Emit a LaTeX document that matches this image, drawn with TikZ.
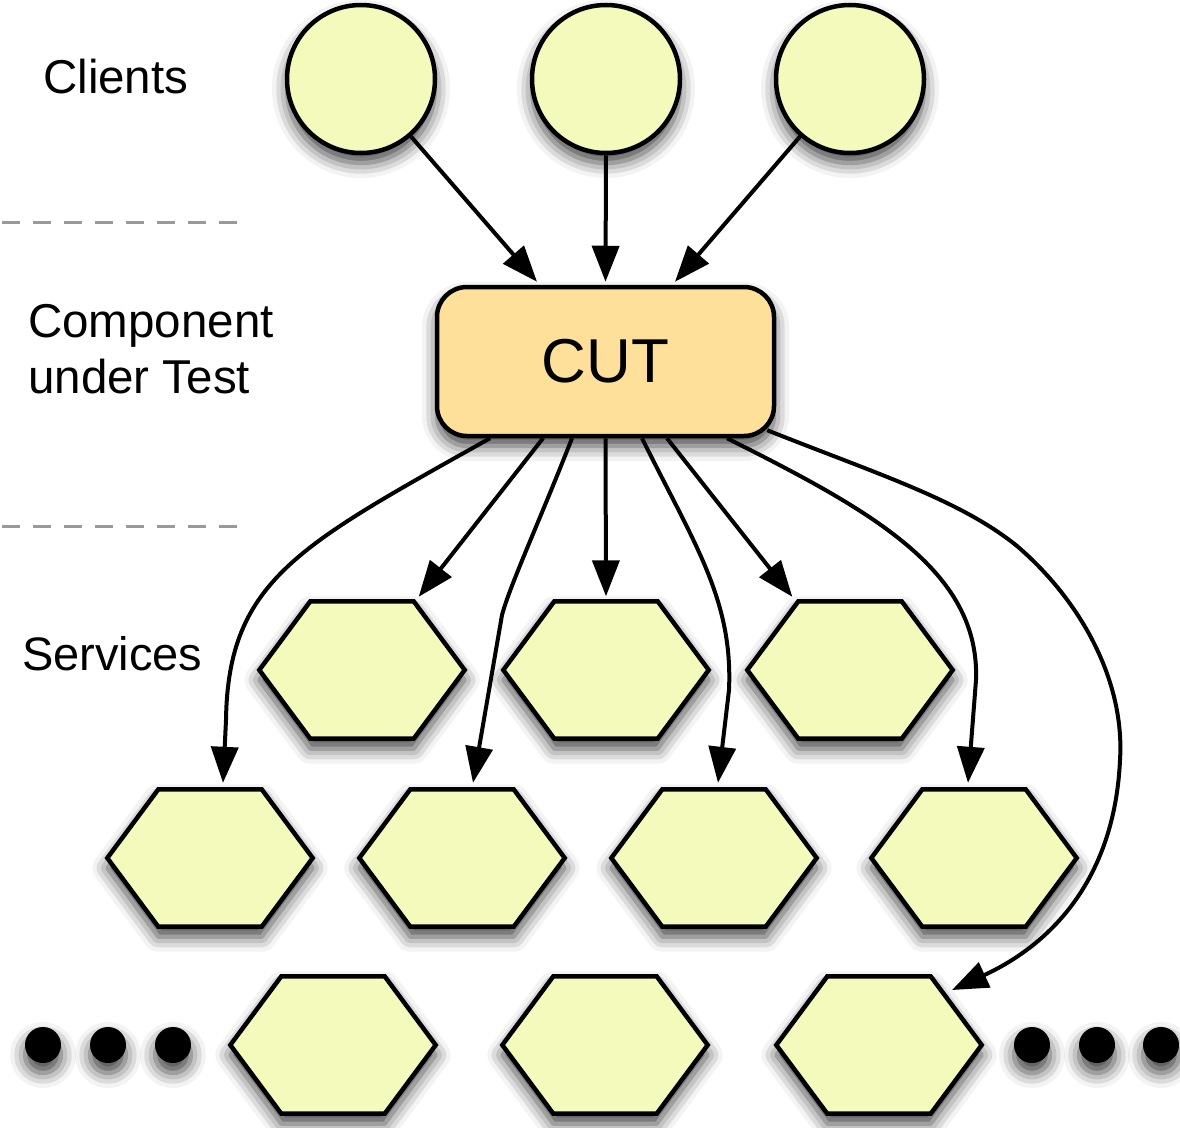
\documentclass[tikz,border=0pt]{standalone}
\usepackage{fontspec}
\setmainfont{Liberation Sans}
\usetikzlibrary{arrows.meta,shadows.blur}

\definecolor{servfill}{HTML}{F4FABB}
\definecolor{cutfill}{HTML}{FEE09B}
\definecolor{guide}{HTML}{9A9A9A}

\tikzset{
  softshadow/.style={blur shadow={shadow xshift=0pt, shadow yshift=-10pt,
      shadow blur radius=15pt, shadow opacity=75}},
  client/.style={circle, draw=black, line width=4.5pt, fill=servfill,
      minimum size=148pt, inner sep=0pt, softshadow},
  cutbox/.style={rectangle, rounded corners=30pt, draw=black, line width=4.5pt,
      fill=cutfill, minimum width=337pt, minimum height=149pt, inner sep=0pt,
      softshadow, font=\fontsize{62}{62}\selectfont},
  hexspot/.style={rectangle, minimum width=205pt, minimum height=137pt, inner sep=0pt},
  hexline/.style={draw=black, line width=4.5pt, fill=servfill, line join=miter, softshadow},
  dotnode/.style={circle, fill=black, minimum size=36pt, inner sep=0pt, softshadow},
  tierlabel/.style={anchor=base west, inner sep=0pt, font=\fontsize{47.5}{56}\selectfont},
  flow/.style={draw=black, line width=4pt, -{Triangle[length=36pt,width=27pt]}},
  tierline/.style={draw=guide, line width=3pt, dash pattern=on 18pt off 13pt},
}

% a service: an invisible anchor box plus the flattened hexagon drawn on it
\newcommand\hexagonat[2]{%
  \node[hexspot] (#1) at (#2) {};
  \path[hexline] ([xshift=51pt]#1.north west) -- ([xshift=-51pt]#1.north east)
    -- (#1.east) -- ([xshift=-51pt]#1.south east) -- ([xshift=51pt]#1.south west)
    -- (#1.west) -- cycle;
}

\begin{document}
\begin{tikzpicture}[x=1pt, y=-1pt]
\useasboundingbox (0,0) rectangle (1180,1127);

% tier separators
\draw[tierline] (2,222) -- (238,222);
\draw[tierline] (2,526) -- (238,526);

% tier labels
\node[tierlabel] (lblclients) at (43,93) {Clients};
\node[tierlabel] (lblcompa) at (28,337) {Component};
\node[tierlabel] (lblcompb) at (28,393) {under Test};
\node[tierlabel, font=\fontsize{47}{56}\selectfont] (lblserv) at (22,670) {Services};

% clients
\node[client] (c1) at (361,79) {};
\node[client] (c2) at (606,79) {};
\node[client] (c3) at (850,79) {};

% component under test
\node[cutbox] (cut) at (605.5,361.5) {CUT};

% services
\hexagonat{s11}{362,670}
\hexagonat{s12}{606,670}
\hexagonat{s13}{850,670}
\hexagonat{s21}{210,858}
\hexagonat{s22}{462,858}
\hexagonat{s23}{714,858}
\hexagonat{s24}{974,858}
\hexagonat{s31}{333,1045}
\hexagonat{s32}{605,1045}
\hexagonat{s33}{879,1045}

% ellipsis dots
\node[dotnode] (dl1) at (43,1045) {};
\node[dotnode] (dl2) at (108,1045) {};
\node[dotnode] (dl3) at (173,1045) {};
\node[dotnode] (dr1) at (1032,1045) {};
\node[dotnode] (dr2) at (1097,1045) {};
\node[dotnode] (dr3) at (1161,1045) {};

% clients call the component
\draw[flow] (c1.-49) -- ([xshift=-68.5pt,yshift=3pt]cut.north);
\draw[flow] (c2.south) -- ([yshift=3pt]cut.north);
\draw[flow] (c3.-131) -- ([xshift=69.5pt,yshift=3pt]cut.north);

% component calls the services
\draw[flow] ([xshift=-115.5pt]cut.south) .. controls (300,545) and (228,580)
  .. (226,720) -- ([xshift=13pt,yshift=6.5pt]s21.north);
\draw[flow] ([xshift=-62.5pt]cut.south) -- ([xshift=-46pt,yshift=4.5pt]s11.north east);
\draw[flow] ([xshift=-33.5pt]cut.south) .. controls (540,520) and (510,585)
  .. (502,615) -- ([xshift=11pt,yshift=6.5pt]s22.north);
\draw[flow] (cut.south) -- ([yshift=5pt]s12.north);
\draw[flow] ([xshift=36.5pt]cut.south) .. controls (695,545) and (733,600)
  .. (729,690) -- ([xshift=4pt,yshift=6.5pt]s23.north);
\draw[flow] ([xshift=61.5pt]cut.south) -- ([xshift=45pt,yshift=4.5pt]s13.north west);
\draw[flow] ([xshift=121.5pt]cut.south) .. controls (870,510) and (980,570)
  .. (976,680) -- ([xshift=-6pt,yshift=6.5pt]s24.north);
\draw[flow] ([xshift=-9pt,yshift=8pt]cut.south east) .. controls (880,475) and (960,500)
  .. (1017,546) .. controls (1080,600) and (1125,680)
  .. (1120,760) .. controls (1115,870) and (1060,940)
  .. ([xshift=73pt,yshift=55pt]s33.center);
\end{tikzpicture}
\end{document}
